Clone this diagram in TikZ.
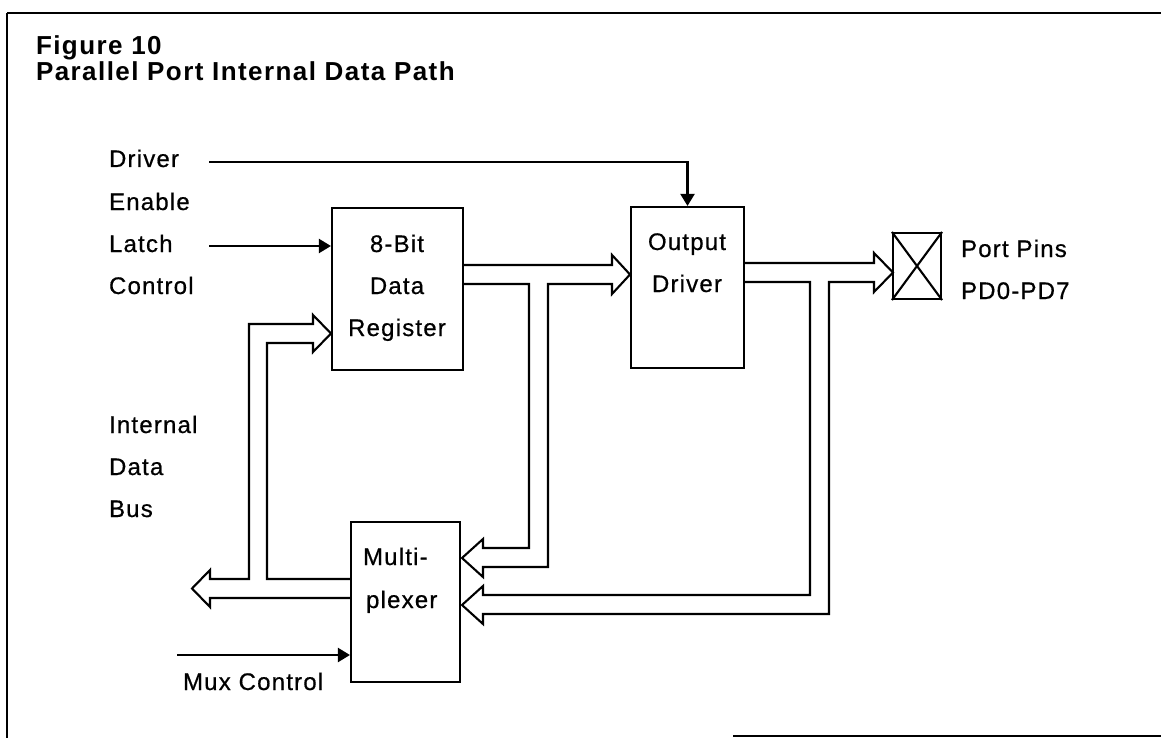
\documentclass[tikz,border=0pt]{standalone}
\usepackage{fontspec}
\setmainfont{Liberation Sans}
\newfontfamily\lblfont[LetterSpace=5,FakeBold=0.6]{Liberation Sans}
\newfontfamily\ttlfont[LetterSpace=5.5]{Liberation Sans}
\usetikzlibrary{arrows.meta}
\begin{document}
\begin{tikzpicture}[x=1pt,y=-1pt,line width=2.1pt,line join=miter,
  box/.style={draw,line width=2.1pt,inner sep=0pt},
  lbl/.style={font=\lblfont\fontsize{24}{28}\selectfont,inner sep=0pt,anchor=base west},
  clbl/.style={font=\lblfont\fontsize{24}{28}\selectfont,inner sep=0pt,anchor=base},
  ttl/.style={font=\ttlfont\bfseries\fontsize{26}{30}\selectfont,inner sep=0pt,anchor=base west},
  ctl/.style={-{Triangle[length=12pt,width=14pt]}},
  bus/.style={line width=2.1pt}]
\useasboundingbox (0,0) rectangle (1161,738);
% frame
\draw (7,13) -- (1161,13);
\draw (7,13) -- (7,738);
\draw (733,736) -- (1161,736);
% title
\node[ttl] (t1) at (35,55) {Figure 10};
\node[ttl] (t2) at (35,81) {Parallel Port Internal Data Path};
% left labels
\node[lbl] (l1) at (108,167) {Driver};
\node[lbl] (l2) at (108,210) {Enable};
\node[lbl] (l3) at (108,252) {Latch};
\node[lbl] (l4) at (108,294) {Control};
\node[lbl] (l5) at (108,433) {Internal};
\node[lbl] (l6) at (108,475) {Data};
\node[lbl] (l7) at (108,517) {Bus};
\node[lbl] (l8) at (182,690) {Mux Control};
% boxes
\node[box,minimum width=131pt,minimum height=162pt] (reg) at (397.5,289) {};
\node[clbl] (r1) at (397,252) {8-Bit};
\node[clbl] (r2) at (397,294) {Data};
\node[clbl] (r3) at (397,336) {Register};
\node[box,minimum width=113pt,minimum height=161pt] (drv) at (687.5,287.5) {};
\node[clbl] (d1) at (687,250) {Output};
\node[clbl] (d2) at (687,292) {Driver};
\node[box,minimum width=109pt,minimum height=160pt] (mux) at (405.5,602) {};
\node[lbl] (m1) at (362,565) {Multi-};
\node[lbl] (m2) at (365,608) {plexer};
\node[box,minimum width=48pt,minimum height=66pt] (pin) at (917,266) {};
\draw (pin.north west) -- (pin.south east) (pin.south west) -- (pin.north east);
\node[lbl] (p1) at (960,257) {Port Pins};
\node[lbl] (p2) at (960,299) {PD0-PD7};
% control lines
\coordinate (drvsrc) at (209,162);
\coordinate (latsrc) at (209,246);
\coordinate (muxsrc) at (177,655);
\draw[ctl] (drvsrc) -| (drv.north);
\draw[ctl] (latsrc) -- (reg.west |- latsrc);
\draw[ctl] (muxsrc) -- (mux.west |- muxsrc);
% internal data bus
\draw[bus] (351,579) -- (267,579) -- (267,343) -- (313,343) -- (313,352) -- (331,333.5)
  -- (313,315) -- (313,324) -- (249,324) -- (249,579) -- (210,579) -- (210,570)
  -- (192,588.5) -- (210,607) -- (210,598) -- (351,598);
% register output bus
\draw[bus] (463,265) -- (612,265) -- (612,255) -- (630,274.5) -- (612,294) -- (612,284)
  -- (548,284) -- (548,567) -- (483,567) -- (483,577) -- (462,558) -- (483,539)
  -- (483,548) -- (529,548) -- (529,284) -- (463,284);
% driver output bus
\draw[bus] (744,263) -- (874,263) -- (874,253) -- (893,272.5) -- (874,292) -- (874,282)
  -- (829,282) -- (829,614) -- (483,614) -- (483,624) -- (462,605) -- (483,586)
  -- (483,595) -- (810,595) -- (810,282) -- (744,282);
\end{tikzpicture}
\end{document}
